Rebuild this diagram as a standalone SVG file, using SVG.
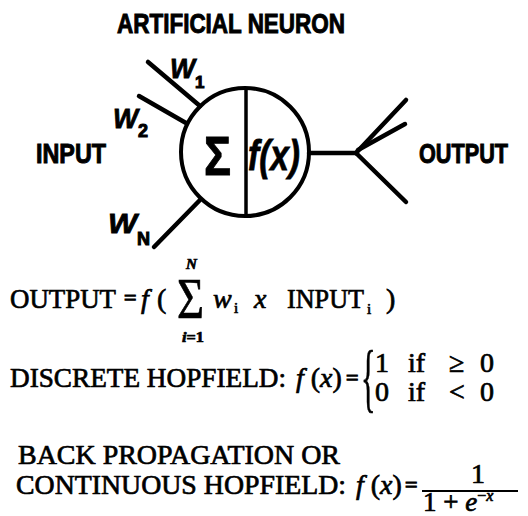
<svg xmlns="http://www.w3.org/2000/svg" width="528" height="516" viewBox="0 0 528 516">
<style>
.hd{font-family:"Liberation Sans",Arial,sans-serif;font-weight:bold;fill:#000;stroke:#000;stroke-width:1}
.hw{font-family:"Liberation Sans",Arial,sans-serif;font-weight:bold;font-style:italic;fill:#000;stroke:#000;stroke-width:0.8}
.tm{font-family:"Liberation Serif","Times New Roman",serif;fill:#000;stroke:#000;stroke-width:0.7}
.eq{font-family:"Liberation Serif","Times New Roman",serif;fill:#000;stroke:#000;stroke-width:1.2;font-size:22px}
.it{font-style:italic}
.ln{stroke:#000;stroke-width:4.5;fill:none;stroke-linecap:round}
</style>
<rect width="528" height="516" fill="#fff"/>
<g id="title"><text class="hd" x="117" y="33" font-size="28" textLength="228" lengthAdjust="spacingAndGlyphs">ARTIFICIAL NEURON</text></g>
<g id="connectors">
<line class="ln" x1="148" y1="62" x2="200" y2="106"/>
<line class="ln" x1="139" y1="96" x2="186" y2="123"/>
<line class="ln" x1="154" y1="247" x2="200" y2="200"/>
<line class="ln" x1="309" y1="153" x2="356" y2="153"/>
<line class="ln" x1="356" y1="153" x2="406" y2="100"/>
<line class="ln" x1="358" y1="150" x2="405" y2="124"/>
<line class="ln" x1="356" y1="153" x2="406" y2="202"/>
</g>
<g id="neuron">
<circle cx="245" cy="152" r="64" fill="none" stroke="#000" stroke-width="4"/>
<line x1="246" y1="88" x2="246" y2="216" stroke="#000" stroke-width="3.5"/>
<text class="hd" x="204" y="175" font-size="56" textLength="27" lengthAdjust="spacingAndGlyphs" stroke-width="1.2">Σ</text>
<text class="hw" x="248" y="170" font-size="42" textLength="52" lengthAdjust="spacingAndGlyphs" font-weight="normal" stroke-width="1.2">f(x)</text>
</g>
<g id="input-label"><text class="hd" x="36" y="163" font-size="28" textLength="70" lengthAdjust="spacingAndGlyphs">INPUT</text></g>
<g id="output-label"><text class="hd" x="419" y="163" font-size="28" textLength="89" lengthAdjust="spacingAndGlyphs">OUTPUT</text></g>
<g id="w1"><text class="hw" x="170" y="78" font-size="28" textLength="25" lengthAdjust="spacingAndGlyphs">W</text><text class="hd" x="195" y="88" font-size="17">1</text></g>
<g id="w2"><text class="hw" x="113" y="128" font-size="28" textLength="25" lengthAdjust="spacingAndGlyphs">W</text><text class="hd" x="138" y="137" font-size="18">2</text></g>
<g id="wn"><text class="hw" x="108" y="233" font-size="28" textLength="29" lengthAdjust="spacingAndGlyphs">W</text><text class="hd" x="137" y="245" font-size="18">N</text></g>
<g id="formula1">
<text class="tm" x="10" y="308" font-size="28" textLength="106" lengthAdjust="spacingAndGlyphs">OUTPUT</text>
<text class="eq" x="124" y="305">=</text>
<text class="tm it" x="141" y="308" font-size="28">f</text>
<text class="tm" x="157" y="308" font-size="28">(</text>
<text class="tm" x="177" y="318" font-size="56" textLength="27" lengthAdjust="spacingAndGlyphs">Σ</text>
<text class="tm it" x="186" y="269" font-size="15" font-weight="bold">N</text>
<text class="tm" x="182" y="342" font-size="15" font-weight="bold" textLength="22" lengthAdjust="spacingAndGlyphs"><tspan font-style="italic">i</tspan>=1</text>
<text class="tm it" x="213" y="308" font-size="28">w</text>
<text class="tm" x="234" y="313" font-size="15">i</text>
<text class="tm it" x="254" y="308" font-size="28">x</text>
<text class="tm" x="287" y="308" font-size="28" textLength="77" lengthAdjust="spacingAndGlyphs">INPUT</text>
<text class="tm" x="367" y="314" font-size="15">i</text>
<text class="tm" x="386" y="308" font-size="28">)</text>
</g>
<g id="formula2">
<text class="tm" x="10" y="387" font-size="28" textLength="276" lengthAdjust="spacingAndGlyphs">DISCRETE HOPFIELD:</text>
<text class="tm" x="296" y="387" font-size="28"><tspan font-style="italic">f</tspan> (<tspan font-style="italic">x</tspan>)</text>
<text class="eq" x="346" y="385">=</text>
<text class="tm" x="0" y="0" font-size="76" transform="translate(361,403) scale(0.4,1)">{</text>
<text class="tm" x="375" y="372" font-size="28">1</text>
<text class="tm" x="408" y="372" font-size="28">if</text>
<text class="tm" x="449" y="372" font-size="28">≥</text>
<text class="tm" x="480" y="372" font-size="28">0</text>
<text class="tm" x="375" y="401" font-size="28">0</text>
<text class="tm" x="408" y="401" font-size="28">if</text>
<text class="tm" x="449" y="401" font-size="28">&lt;</text>
<text class="tm" x="480" y="401" font-size="28">0</text>
</g>
<g id="formula3">
<text class="tm" x="18" y="464" font-size="28" textLength="322" lengthAdjust="spacingAndGlyphs">BACK PROPAGATION OR</text>
<text class="tm" x="16" y="494" font-size="28" textLength="330" lengthAdjust="spacingAndGlyphs">CONTINUOUS HOPFIELD:</text>
<text class="tm" x="356" y="494" font-size="28"><tspan font-style="italic">f</tspan> (<tspan font-style="italic">x</tspan>)</text>
<text class="eq" x="405" y="492">=</text>
<text class="tm" x="471" y="483" font-size="28">1</text>
<line x1="422" y1="491" x2="518" y2="491" stroke="#000" stroke-width="2"/>
<text class="tm" x="423" y="511" font-size="27">1 + <tspan font-style="italic">e</tspan><tspan font-size="16" dy="-10">−<tspan font-style="italic">x</tspan></tspan></text>
</g>
</svg>
